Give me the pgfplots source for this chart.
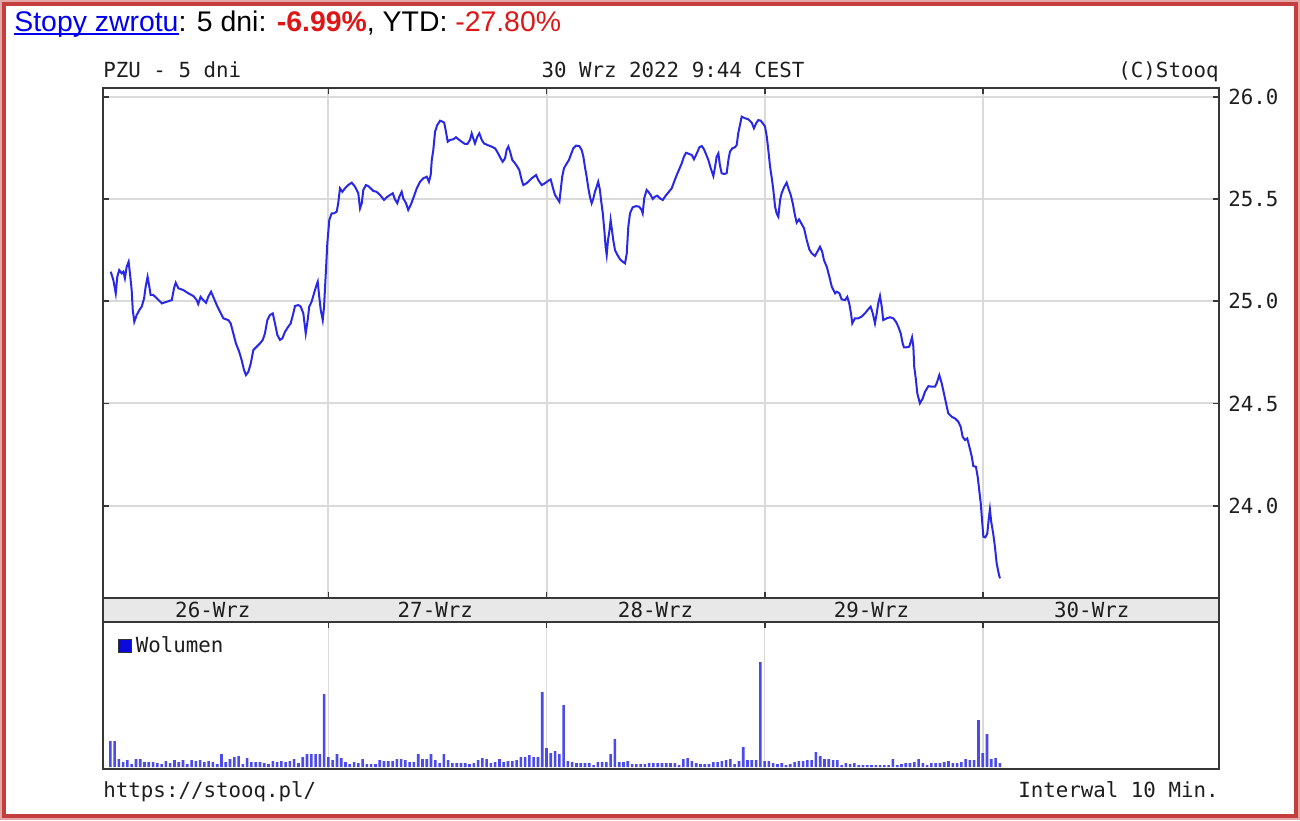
\documentclass[border=0pt]{standalone}
\usepackage{pgfplots}
\pgfplotsset{compat=1.18}
\usepackage{pgfplotstable}
\usepackage{fontspec}
\setmainfont{Liberation Sans}
\setmonofont{DejaVu Sans Mono}
\newcommand{\mono}{\ttfamily\fontsize{10.4}{12}\selectfont}
\definecolor{linkblue}{RGB}{0,0,238}
\definecolor{retred}{RGB}{222,22,22}
\definecolor{pline}{RGB}{40,40,230}
\definecolor{vbar}{RGB}{75,75,235}
\definecolor{legblue}{RGB}{10,10,220}
\definecolor{gridc}{RGB}{218,218,218}
\definecolor{framec}{RGB}{55,55,55}
\definecolor{bandc}{RGB}{232,232,232}
\definecolor{borderred}{RGB}{196,62,62}
\definecolor{txt}{RGB}{30,30,30}
\newcommand{\ulink}[1]{\setbox0\hbox{#1}\rlap{\rule[-2pt]{\wd0}{0.9pt}}\box0}

% price: x in days from 26-Wrz (0) , y in PLN
\pgfplotstableread[row sep=\\]{
d v\\
0.002 25.145\\ 0.014 25.104\\ 0.025 25.039\\ 0.032 25.120\\ 0.041 25.153\\ 0.052 25.137\\ 0.060 25.145\\ 0.067 25.113\\
0.075 25.169\\ 0.084 25.194\\ 0.090 25.137\\ 0.098 25.055\\ 0.103 24.957\\ 0.110 24.900\\ 0.121 24.933\\ 0.133 24.957\\
0.144 24.974\\ 0.155 25.015\\ 0.162 25.071\\ 0.171 25.120\\ 0.179 25.071\\ 0.185 25.031\\ 0.197 25.031\\ 0.213 25.015\\
0.236 24.990\\ 0.259 24.998\\ 0.282 25.006\\ 0.292 25.064\\ 0.300 25.091\\ 0.312 25.064\\ 0.335 25.055\\ 0.358 25.039\\
0.381 25.026\\ 0.396 25.006\\ 0.403 24.987\\ 0.414 25.022\\ 0.426 25.006\\ 0.439 24.993\\ 0.449 25.022\\ 0.462 25.047\\
0.472 25.022\\ 0.488 24.982\\ 0.503 24.949\\ 0.518 24.917\\ 0.541 24.908\\ 0.552 24.892\\ 0.564 24.843\\ 0.576 24.794\\
0.591 24.753\\ 0.602 24.713\\ 0.613 24.664\\ 0.622 24.639\\ 0.633 24.655\\ 0.644 24.696\\ 0.656 24.762\\ 0.671 24.778\\
0.686 24.794\\ 0.699 24.811\\ 0.709 24.843\\ 0.720 24.908\\ 0.732 24.933\\ 0.745 24.941\\ 0.755 24.892\\ 0.766 24.835\\
0.778 24.811\\ 0.789 24.819\\ 0.801 24.851\\ 0.816 24.876\\ 0.827 24.892\\ 0.839 24.941\\ 0.847 24.977\\ 0.862 24.982\\
0.873 24.974\\ 0.885 24.941\\ 0.896 24.843\\ 0.905 24.908\\ 0.912 24.974\\ 0.923 24.998\\ 0.934 25.039\\ 0.943 25.071\\
0.951 25.096\\ 0.958 25.022\\ 0.965 24.957\\ 0.974 24.908\\ 0.980 24.974\\ 0.988 25.137\\ 0.995 25.284\\ 1.004 25.398\\
1.015 25.431\\ 1.026 25.431\\ 1.038 25.439\\ 1.045 25.480\\ 1.053 25.553\\ 1.064 25.536\\ 1.076 25.553\\ 1.091 25.569\\
1.107 25.581\\ 1.122 25.561\\ 1.137 25.529\\ 1.145 25.455\\ 1.153 25.480\\ 1.160 25.545\\ 1.172 25.569\\ 1.183 25.564\\
1.194 25.553\\ 1.206 25.540\\ 1.221 25.536\\ 1.237 25.520\\ 1.255 25.496\\ 1.267 25.509\\ 1.282 25.520\\ 1.295 25.529\\
1.305 25.499\\ 1.316 25.480\\ 1.325 25.512\\ 1.336 25.536\\ 1.343 25.504\\ 1.356 25.480\\ 1.366 25.447\\ 1.377 25.471\\
1.389 25.504\\ 1.405 25.553\\ 1.420 25.585\\ 1.435 25.602\\ 1.451 25.610\\ 1.461 25.585\\ 1.469 25.618\\ 1.474 25.692\\
1.481 25.741\\ 1.489 25.830\\ 1.499 25.863\\ 1.512 25.884\\ 1.524 25.879\\ 1.531 25.874\\ 1.539 25.830\\ 1.547 25.781\\
1.558 25.790\\ 1.573 25.793\\ 1.585 25.803\\ 1.596 25.793\\ 1.611 25.781\\ 1.626 25.770\\ 1.637 25.770\\ 1.649 25.790\\
1.657 25.822\\ 1.664 25.798\\ 1.672 25.773\\ 1.683 25.806\\ 1.692 25.822\\ 1.703 25.790\\ 1.713 25.773\\ 1.729 25.765\\
1.749 25.757\\ 1.764 25.749\\ 1.774 25.732\\ 1.787 25.705\\ 1.799 25.683\\ 1.810 25.700\\ 1.817 25.741\\ 1.825 25.757\\
1.833 25.732\\ 1.843 25.692\\ 1.856 25.675\\ 1.866 25.659\\ 1.875 25.643\\ 1.886 25.594\\ 1.894 25.569\\ 1.909 25.578\\
1.932 25.602\\ 1.952 25.618\\ 1.962 25.594\\ 1.978 25.569\\ 1.993 25.578\\ 2.008 25.590\\ 2.019 25.597\\ 2.028 25.561\\
2.039 25.520\\ 2.049 25.504\\ 2.059 25.487\\ 2.066 25.553\\ 2.072 25.610\\ 2.080 25.651\\ 2.093 25.675\\ 2.103 25.692\\
2.111 25.716\\ 2.123 25.749\\ 2.135 25.762\\ 2.150 25.760\\ 2.161 25.741\\ 2.169 25.708\\ 2.176 25.659\\ 2.184 25.610\\
2.192 25.553\\ 2.199 25.512\\ 2.207 25.480\\ 2.215 25.504\\ 2.222 25.536\\ 2.230 25.561\\ 2.237 25.585\\ 2.245 25.545\\
2.250 25.496\\ 2.258 25.431\\ 2.265 25.349\\ 2.271 25.267\\ 2.276 25.227\\ 2.282 25.300\\ 2.288 25.341\\ 2.294 25.398\\
2.300 25.349\\ 2.306 25.300\\ 2.314 25.251\\ 2.325 25.227\\ 2.337 25.206\\ 2.349 25.194\\ 2.360 25.186\\ 2.368 25.235\\
2.375 25.365\\ 2.383 25.431\\ 2.395 25.460\\ 2.410 25.466\\ 2.425 25.463\\ 2.436 25.447\\ 2.441 25.431\\ 2.448 25.504\\
2.459 25.545\\ 2.467 25.536\\ 2.478 25.520\\ 2.487 25.501\\ 2.497 25.512\\ 2.508 25.517\\ 2.520 25.504\\ 2.533 25.496\\
2.543 25.512\\ 2.558 25.532\\ 2.574 25.553\\ 2.585 25.585\\ 2.597 25.618\\ 2.607 25.643\\ 2.620 25.675\\ 2.630 25.708\\
2.640 25.727\\ 2.655 25.721\\ 2.666 25.716\\ 2.676 25.695\\ 2.689 25.724\\ 2.701 25.754\\ 2.712 25.760\\ 2.722 25.744\\
2.731 25.721\\ 2.742 25.692\\ 2.753 25.651\\ 2.765 25.613\\ 2.773 25.659\\ 2.780 25.708\\ 2.788 25.724\\ 2.795 25.667\\
2.803 25.627\\ 2.814 25.623\\ 2.826 25.627\\ 2.834 25.692\\ 2.841 25.732\\ 2.852 25.749\\ 2.864 25.754\\ 2.872 25.765\\
2.879 25.822\\ 2.887 25.863\\ 2.895 25.904\\ 2.910 25.896\\ 2.925 25.891\\ 2.941 25.874\\ 2.951 25.847\\ 2.961 25.871\\
2.971 25.887\\ 2.982 25.884\\ 2.994 25.868\\ 3.002 25.855\\ 3.010 25.806\\ 3.017 25.741\\ 3.025 25.659\\ 3.033 25.602\\
3.040 25.545\\ 3.048 25.463\\ 3.055 25.431\\ 3.063 25.414\\ 3.071 25.496\\ 3.078 25.529\\ 3.089 25.558\\ 3.101 25.581\\
3.109 25.553\\ 3.120 25.520\\ 3.129 25.480\\ 3.139 25.422\\ 3.147 25.385\\ 3.158 25.401\\ 3.170 25.378\\ 3.181 25.357\\
3.193 25.300\\ 3.205 25.254\\ 3.216 25.235\\ 3.231 25.222\\ 3.242 25.243\\ 3.254 25.267\\ 3.264 25.243\\ 3.272 25.202\\
3.285 25.169\\ 3.297 25.120\\ 3.308 25.071\\ 3.323 25.039\\ 3.331 25.047\\ 3.343 25.039\\ 3.353 25.010\\ 3.369 25.006\\
3.379 25.022\\ 3.388 24.990\\ 3.396 24.941\\ 3.402 24.892\\ 3.414 24.917\\ 3.430 24.917\\ 3.445 24.925\\ 3.460 24.941\\
3.475 24.961\\ 3.486 24.974\\ 3.496 24.941\\ 3.506 24.892\\ 3.514 24.941\\ 3.521 24.990\\ 3.529 25.026\\ 3.537 24.974\\
3.544 24.908\\ 3.560 24.917\\ 3.575 24.922\\ 3.590 24.917\\ 3.602 24.900\\ 3.613 24.876\\ 3.624 24.843\\ 3.633 24.794\\
3.639 24.775\\ 3.651 24.775\\ 3.663 24.778\\ 3.670 24.802\\ 3.676 24.824\\ 3.682 24.778\\ 3.686 24.680\\ 3.693 24.623\\
3.700 24.550\\ 3.712 24.501\\ 3.725 24.525\\ 3.735 24.557\\ 3.751 24.585\\ 3.766 24.582\\ 3.781 24.582\\ 3.789 24.599\\
3.801 24.639\\ 3.812 24.599\\ 3.822 24.550\\ 3.832 24.501\\ 3.842 24.452\\ 3.858 24.435\\ 3.873 24.427\\ 3.888 24.411\\
3.899 24.386\\ 3.908 24.337\\ 3.919 24.321\\ 3.929 24.329\\ 3.939 24.288\\ 3.950 24.239\\ 3.957 24.194\\ 3.969 24.190\\
3.977 24.141\\ 3.984 24.076\\ 3.991 24.011\\ 3.997 23.929\\ 4.003 23.848\\ 4.012 23.845\\ 4.021 23.864\\ 4.027 23.929\\
4.033 23.982\\ 4.039 23.921\\ 4.048 23.864\\ 4.056 23.799\\ 4.064 23.717\\ 4.073 23.669\\ 4.079 23.644\\
}\pricedata

% volume per 10-min bar (relative units), 51 bars per day, 26..30 Wrz
\pgfplotstableread[row sep=\\]{
v\\
26\\ 26\\ 8\\ 5\\ 7\\ 3\\ 8\\ 8\\ 5\\ 5\\ 5\\ 4\\ 3\\ 6\\ 4\\ 7\\ 5\\ 7\\ 3\\ 7\\ 6\\ 7\\ 5\\ 6\\ 5\\ 3\\ 13\\ 5\\ 8\\ 10\\ 11\\ 3\\ 9\\ 5\\ 5\\ 5\\ 4\\ 3\\ 6\\ 5\\ 6\\ 5\\ 6\\ 8\\ 4\\ 10\\ 13\\ 13\\ 13\\ 13\\ 73\\
10\\ 7\\ 13\\ 9\\ 5\\ 3\\ 5\\ 4\\ 8\\ 3\\ 3\\ 3\\ 7\\ 6\\ 6\\ 6\\ 8\\ 8\\ 7\\ 5\\ 5\\ 13\\ 8\\ 8\\ 13\\ 7\\ 4\\ 13\\ 7\\ 4\\ 4\\ 4\\ 4\\ 3\\ 4\\ 7\\ 9\\ 8\\ 4\\ 5\\ 8\\ 5\\ 6\\ 6\\ 7\\ 10\\ 10\\ 12\\ 10\\ 10\\ 75\\
19\\ 14\\ 16\\ 13\\ 62\\ 6\\ 5\\ 4\\ 4\\ 4\\ 4\\ 2\\ 5\\ 5\\ 5\\ 13\\ 28\\ 5\\ 5\\ 6\\ 3\\ 3\\ 3\\ 3\\ 4\\ 4\\ 4\\ 4\\ 4\\ 4\\ 4\\ 2\\ 8\\ 9\\ 6\\ 4\\ 3\\ 3\\ 3\\ 5\\ 5\\ 6\\ 7\\ 8\\ 3\\ 6\\ 20\\ 7\\ 7\\ 7\\ 105\\
6\\ 6\\ 4\\ 3\\ 4\\ 2\\ 3\\ 5\\ 6\\ 6\\ 7\\ 7\\ 15\\ 11\\ 8\\ 8\\ 7\\ 7\\ 2\\ 4\\ 3\\ 4\\ 2\\ 2\\ 2\\ 2\\ 2\\ 2\\ 2\\ 2\\ 8\\ 2\\ 3\\ 4\\ 4\\ 5\\ 8\\ 4\\ 2\\ 4\\ 4\\ 4\\ 5\\ 6\\ 4\\ 4\\ 5\\ 8\\ 7\\ 7\\ 47\\
14\\ 33\\ 8\\ 9\\ 4\\
}\volumedata

\begin{document}
\begin{tikzpicture}[x=1pt,y=1pt]
\path[use as bounding box] (0,0) rectangle (650,-410);
\fill[white] (0,0) rectangle (650,-410);
\draw[borderred!45, line width=1pt] (0.5,-0.5) rectangle (649.5,-409.5);
\draw[borderred, line width=1.6pt] (2,-2) rectangle (648,-408);

% title
\node[anchor=base west, inner sep=0pt, font=\fontsize{14.2}{16}\selectfont] at (7,-15.5)
 {\textcolor{linkblue}{\ulink{Stopy zwrotu}}: 5 dni: \textcolor{retred}{\textbf{-6.99\%}}, YTD: \textcolor{retred}{-27.80\%}};

% header
\node[anchor=base west, inner sep=0pt, font=\mono, text=txt] at (51.5,-38.5) {PZU - 5 dni};
\node[anchor=base, inner sep=0pt, font=\mono, text=txt] at (336.5,-38.5) {30 Wrz 2022 9:44 CEST};
\node[anchor=base east, inner sep=0pt, font=\mono, text=txt] at (609.5,-38.5) {(C)Stooq};

% date band
\filldraw[fill=bandc, draw=framec, line width=1pt] (51.5,-299) rectangle (609.5,-311);

\begin{axis}[
  at={(51.5pt,-44pt)}, anchor=north west, scale only axis,
  width=558pt, height=255pt,
  xmin=-0.0335, xmax=5.0834, ymin=23.548, ymax=26.044,
  axis line style={framec, line width=1pt},
  xtick={1,2,3,4}, xticklabels={},
  ytick={24,24.5,25,25.5,26}, yticklabels={24.0,24.5,25.0,25.5,26.0},
  grid=major, major grid style={gridc, line width=1pt},
  tick align=inside, major tick length=3pt,
  every tick/.style={framec, line width=0.9pt},
  xtick pos=both, ytick pos=both, yticklabel pos=right,
  yticklabel style={font=\mono, text=txt, anchor=west, inner sep=0pt, xshift=4.5pt},
  extra x ticks={0.47,1.49,2.5,3.49,4.5},
  extra x tick labels={26-Wrz,27-Wrz,28-Wrz,29-Wrz,30-Wrz},
  extra x tick style={grid=none, major tick length=0pt,
     xticklabel style={font=\mono, text=txt, anchor=center, inner sep=0pt, yshift=-6pt}},
]
\addplot[pline, line width=1pt, line join=miter, mark=none] table[x=d, y=v] {\pricedata};
\end{axis}

\begin{axis}[
  at={(51.5pt,-311pt)}, anchor=north west, scale only axis,
  width=558pt, height=73.5pt,
  xmin=-1.707, xmax=259.25, ymin=-2, ymax=145,
  axis line style={framec, line width=1pt},
  xtick={51,102,153,204}, xticklabels={}, ytick=\empty,
  xmajorgrids, major grid style={gridc, line width=0.8pt},
  tick align=inside, major tick length=3pt,
  every tick/.style={framec, line width=0.9pt},
  xtick pos=right,
  legend style={draw=none, fill=none, font=\mono, text=txt,
     at={(axis description cs:0,1)}, anchor=north west, xshift=7.5pt, yshift=-5pt,
     inner xsep=0pt, inner ysep=0pt},
  legend cell align=left,
  /tikz/every even column/.append style={column sep=0.5pt},
]
\addplot[ybar, bar width=1.3pt, bar shift=0pt, fill=vbar, draw=none,
   legend image code/.code={\filldraw[fill=legblue, draw=black!80, line width=0.5pt] (0pt,-3.1pt) rectangle (6.2pt,3.1pt);}]
   table[x expr=\coordindex, y=v] {\volumedata};
\addlegendentry{Wolumen}
\end{axis}

% footer
\node[anchor=base west, inner sep=0pt, font=\mono, text=txt] at (51.5,-398.5) {https://stooq.pl/};
\node[anchor=base east, inner sep=0pt, font=\mono, text=txt] at (609.5,-398.5) {Interwal 10 Min.};
\end{tikzpicture}
\end{document}
